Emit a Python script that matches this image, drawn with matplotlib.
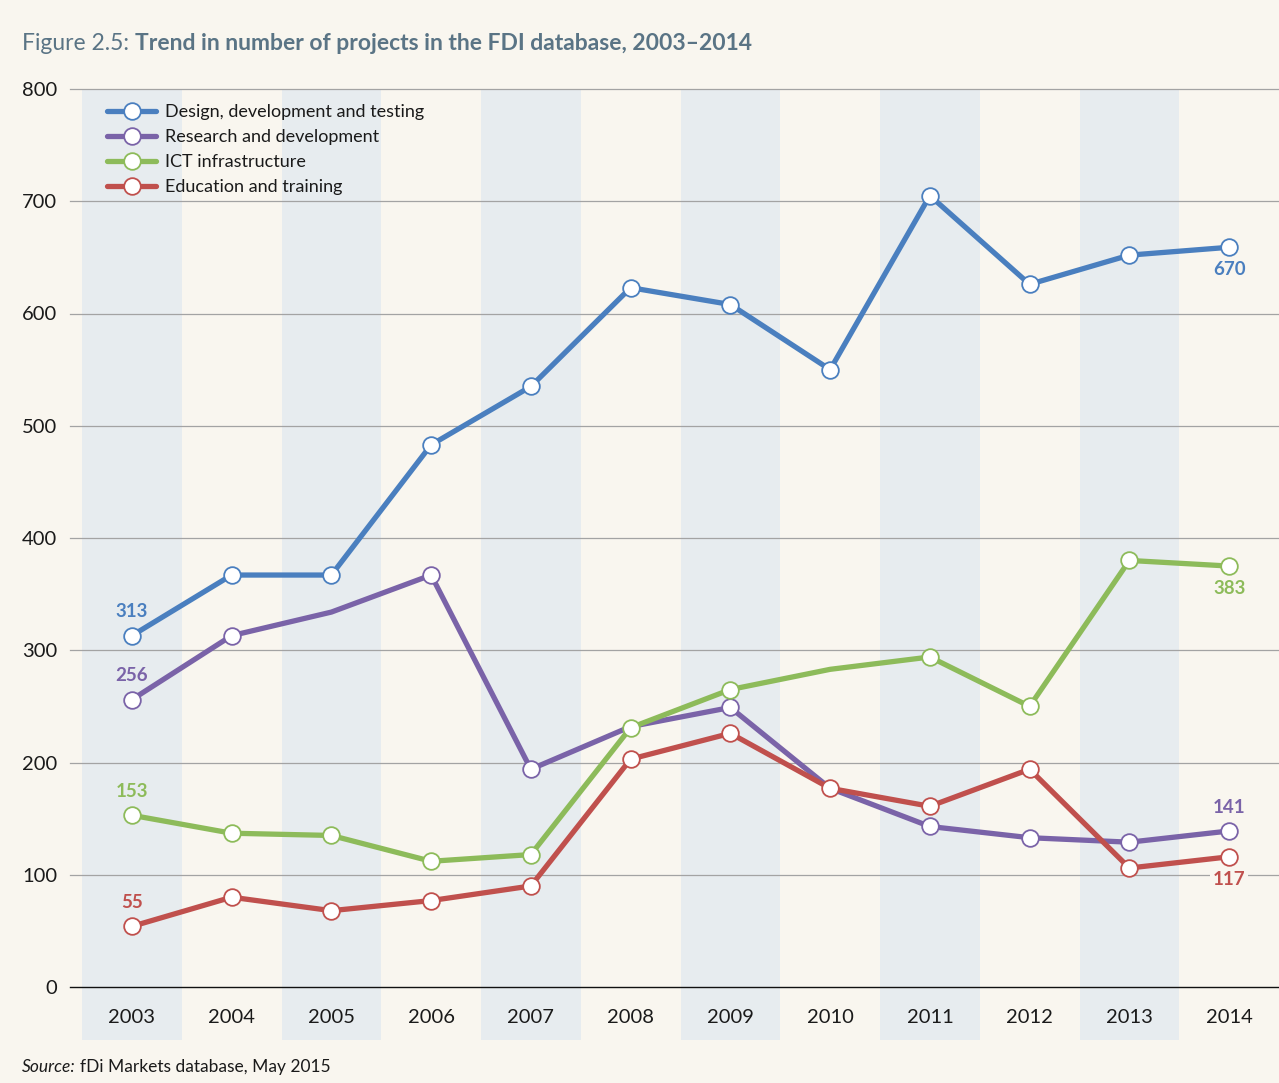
import matplotlib
matplotlib.use('Agg')
import matplotlib.pyplot as plt
import matplotlib.transforms as mtransforms
from matplotlib.patches import Rectangle

plt.rcParams['font.family'] = ['Lato', 'DejaVu Sans']

years = ['2003', '2004', '2005', '2006', '2007', '2008', '2009', '2010', '2011', '2012', '2013', '2014']

design = [313, 367, 367, 483, 535, 623, 608, 550, 705, 626, 652, 659]
research = [256, 313, 334, 367, 194, 232, 249, 177, 143, 133, 129, 139]
ict = [153, 137, 135, 112, 118, 231, 265, 283, 294, 250, 380, 375]
education = [54, 80, 68, 77, 90, 203, 226, 177, 161, 194, 106, 116]

names = ['Design, development and testing', 'Research and development',
         'ICT infrastructure', 'Education and training']
start_labels = ['313', '256', '153', '55']
end_labels = ['670', '141', '383', '117']

colors = ['#4a7fbf', '#7a63a8', '#8dbb5a', '#c0504d']
bg = '#f9f6ef'
band = '#e7ecef'
title_col = '#5a7485'

series = [design, research, ict, education]
# points drawn without a circle marker
no_marker = [[], [2, 5, 7], [7], []]

fig = plt.figure(figsize=(12.79, 10.83), dpi=100, facecolor=bg)
ax = fig.add_axes([82 / 1279, 1 - 987 / 1083, 1197 / 1279, 898 / 1083])
ax.set_facecolor(bg)
x = list(range(len(years)))
ax.set_xlim(-0.5, len(years) - 0.5)
ax.set_ylim(0, 800)

# alternating shaded columns, reaching down behind the year labels
trans = mtransforms.blended_transform_factory(ax.transData, ax.transAxes)
for i in x[::2]:
    ax.add_patch(Rectangle((i - 0.5, -0.059), 1.0, 1.059, transform=trans,
                           facecolor=band, edgecolor='none', zorder=0, clip_on=False))

# gridlines (slightly extending to the left of the plot)
gtrans = mtransforms.blended_transform_factory(ax.transAxes, ax.transData)
for v in range(0, 801, 100):
    ax.plot([-0.01, 1.0], [v, v], transform=gtrans, clip_on=False,
            color='#111111' if v == 0 else '#a3a3a3', lw=1.0 if v == 0 else 0.9, zorder=1)

for k, (vals, name, c) in enumerate(zip(series, names, colors)):
    marks = [i for i in x if i not in no_marker[k]]
    ax.plot(x, vals, color=c, lw=3.8, marker='o', markevery=marks, ms=12,
            mfc='white', mec=c, mew=1.3, label=name, zorder=3 + k * 0.1,
            solid_capstyle='round')

# value labels at both ends
for k, (vals, c) in enumerate(zip(series, colors)):
    ax.annotate(start_labels[k], (x[0], vals[0]), xytext=(0, 11), textcoords='offset points',
                ha='center', va='bottom', color=c, fontsize=13.5, fontweight='bold', zorder=6)
    if k == 1:
        ax.annotate(end_labels[k], (x[-1], vals[-1]), xytext=(0, 11), textcoords='offset points',
                    ha='center', va='bottom', color=c, fontsize=13.5, fontweight='bold', zorder=6)
    else:
        ax.annotate(end_labels[k], (x[-1], vals[-1]), xytext=(0, -10), textcoords='offset points',
                    ha='center', va='top', color=c, fontsize=13.5, fontweight='bold', zorder=6,
                    bbox=dict(boxstyle='square,pad=0.15', fc=bg, ec='none'))

ax.set_xticks(x)
ax.set_xticklabels(years)
ax.set_yticks(range(0, 801, 100))
ax.tick_params(axis='both', length=0, labelsize=14.5, colors='#1a1a1a')
ax.tick_params(axis='x', pad=16)
ax.tick_params(axis='y', pad=18)
for s in ax.spines.values():
    s.set_visible(False)

leg = ax.legend(loc='upper left', bbox_to_anchor=(0.021, 0.983), frameon=False,
                fontsize=13, handlelength=2.7, handletextpad=0.5, labelspacing=0.5,
                borderpad=0, borderaxespad=0, numpoints=1)
for t in leg.get_texts():
    t.set_color('#1a1a1a')

# title: regular prefix followed by bold part
t1 = fig.text(22 / 1279, 1 - 44 / 1083, 'Figure 2.5: ', color=title_col, fontsize=16.5,
              va='center', ha='left')
ax.annotate('Trend in number of projects in the FDI database, 2003\u20132014',
            xy=(1, 0), xycoords=t1, va='bottom', ha='left', color=title_col,
            fontsize=16.5, fontweight='bold', annotation_clip=False)

s1 = fig.text(22 / 1279, 1 - 1067 / 1083, 'Source:', style='italic', fontsize=12.5,
              color='#1a1a1a', va='center', ha='left')
ax.annotate('fDi Markets database, May 2015', xy=(1, 0), xycoords=s1, xytext=(3, 0),
            textcoords='offset points', va='bottom', ha='left', fontsize=12.5,
            color='#1a1a1a', annotation_clip=False)

fig.savefig('out.png', dpi=100, facecolor=bg)
